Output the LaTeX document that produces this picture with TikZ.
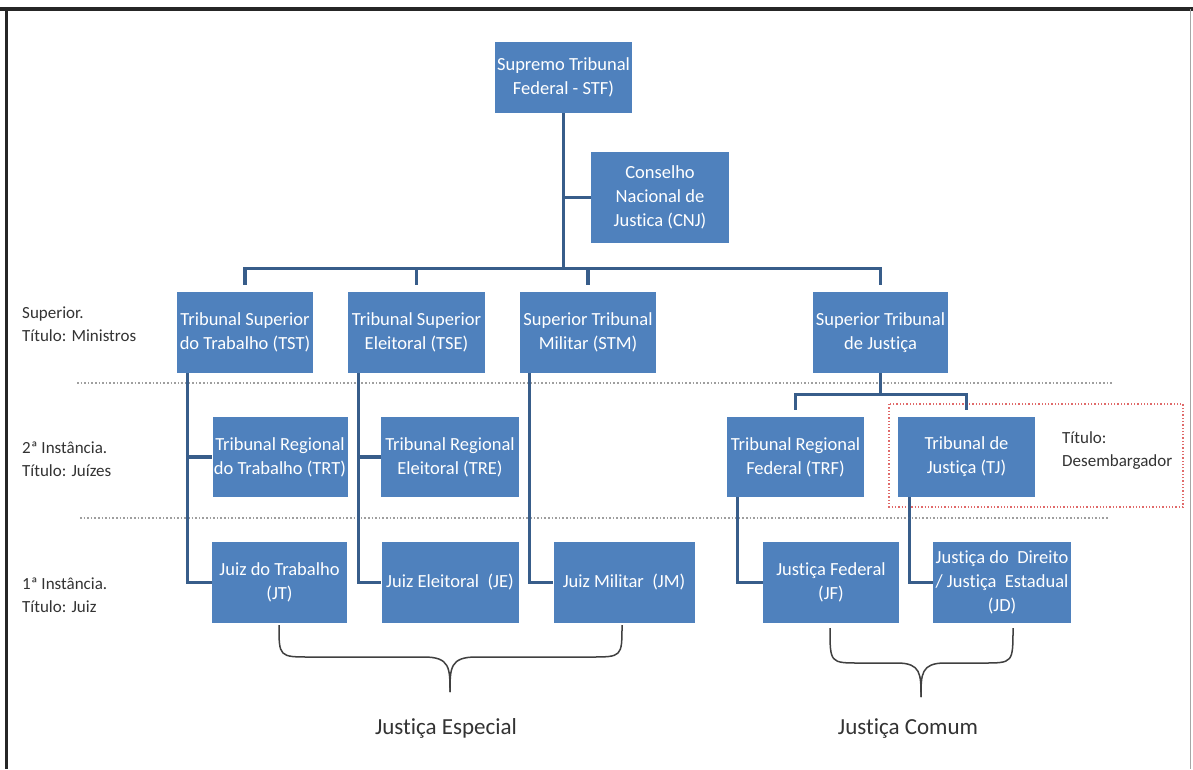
\documentclass[tikz,border=0pt]{standalone}
\usepackage{fontspec}
\setmainfont{Carlito}[Ligatures=NoCommon]
\definecolor{boxblue}{HTML}{4F81BD}
\definecolor{connblue}{HTML}{385D8A}
\definecolor{lbl}{HTML}{333333}
\definecolor{redbox}{HTML}{E06A6A}
\begin{document}
\begin{tikzpicture}[x=1pt,y=-1pt,
  box/.style={fill=boxblue, text=white, align=center, inner sep=0pt,
    minimum height=81pt, font=\fontsize{18.5}{24}\selectfont},
  conn/.style={draw=connblue, line width=3.2pt},
  lab/.style={anchor=west, align=left, text=lbl, inner sep=0pt,
    font=\fontsize{17}{23}\selectfont},
  biglab/.style={text=lbl, inner sep=0pt, font=\fontsize{23}{27}\selectfont},
  sepline/.style={draw=gray!75, dotted, line width=1.6pt},
  bracepath/.style={draw=black!75, line width=1.5pt}]
\useasboundingbox (0,0) rectangle (1193,769);
\fill[white] (0,0) rectangle (1193,769);

% frame
\draw[line width=3.5pt, black!85] (0,9) -- (1193,9);
\draw[line width=3pt, black!85] (6,9) -- (6,769);
\draw[line width=1pt, gray!70] (1190,9) -- (1190,769);

% separators
\draw[sepline] (77,383) -- (1113,383);
\draw[sepline] (80,518) -- (1108,518);

% red dotted box
\draw[redbox, dotted, line width=1.3pt] (889,404) rectangle (1183,507);

% boxes
\node[box, minimum width=137pt, minimum height=71pt] (STF) at (563.5,77.5) {Supremo Tribunal\\Federal - STF)};
\node[box, minimum width=138pt, minimum height=91pt] (CNJ) at (660,197.5) {Conselho\\Nacional de\\Justica (CNJ)};

\node[box, minimum width=136pt] (TST) at (245,332.5) {Tribunal Superior\\do Trabalho (TST)};
\node[box, minimum width=137pt] (TSE) at (416.5,332.5) {Tribunal Superior\\Eleitoral (TSE)};
\node[box, minimum width=136pt] (STM) at (588,332.5) {Superior Tribunal\\Militar (STM)};
\node[box, minimum width=135pt] (STJ) at (880.5,332.5) {Superior Tribunal\\de Justiça};

\node[box, minimum width=135pt, minimum height=80pt] (TRT) at (280,457) {Tribunal Regional\\do Trabalho (TRT)};
\node[box, minimum width=138pt, minimum height=80pt] (TRE) at (450,457) {Tribunal Regional\\Eleitoral (TRE)};
\node[box, minimum width=137pt, minimum height=80pt] (TRF) at (795.5,457) {Tribunal Regional\\Federal (TRF)};
\node[box, minimum width=137pt, minimum height=80pt] (TJ) at (966.5,457) {Tribunal de\\Justiça (TJ)};

\node[box, minimum width=135pt] (JT) at (279.5,582.5) {Juiz do Trabalho\\(JT)};
\node[box, minimum width=137pt] (JE) at (450,582.5) {Juiz Eleitoral~ (JE)};
\node[box, minimum width=141pt] (JM) at (624,582.5) {Juiz Militar~ (JM)};
\node[box, minimum width=136pt] (JF) at (831,582.5) {Justiça Federal\\(JF)};
\node[box, minimum width=138pt] (JD) at (1002,582.5) {Justiça do~ Direito\\/ Justiça~ Estadual\\(JD)};

% connectors top
\coordinate (bus) at (0,269);
\draw[conn] (STF.south) -- (STF.south |- bus);
\draw[conn] (STF.south |- CNJ.west) -- (CNJ.west);
\draw[conn] ([yshift=7pt]TST.north) -- ++(0,-16) -| ([yshift=7pt]STJ.north);
\draw[conn] ([yshift=7pt]TSE.north) -- ++(0,-16);
\draw[conn] ([yshift=7pt]STM.north) -- ++(0,-16);

\draw[conn] (STJ.south) -- ++(0,22);
\draw[conn] ([yshift=7pt]TRF.north) -- ++(0,-15) -| ([yshift=7pt]TJ.north);

% vertical chains
\draw[conn] ([xshift=11pt]TST.south west) |- (JT.west);
\draw[conn] ([xshift=11pt]TST.south west) |- (TRT.west);
\draw[conn] ([xshift=11pt]TSE.south west) |- (JE.west);
\draw[conn] ([xshift=11pt]TSE.south west) |- (TRE.west);
\draw[conn] ([xshift=10pt]STM.south west) |- (JM.west);
\draw[conn] ([xshift=11pt]TRF.south west) |- (JF.west);
\draw[conn] ([xshift=12pt]TJ.south west) |- (JD.west);

% braces
\draw[bracepath] (279,625) .. controls (279,657) and (279,657) .. (311,657) -- (424,657) .. controls (450,657) and (450,668) .. (450,692);
\draw[bracepath] (622,625) .. controls (622,657) and (622,657) .. (590,657) -- (476,657) .. controls (450,657) and (450,668) .. (450,692);
\draw[bracepath] (830,628) .. controls (830,663) and (830,663) .. (860,663) -- (897,663) .. controls (921,663) and (921,674) .. (921,697);
\draw[bracepath] (1013,628) .. controls (1013,663) and (1013,663) .. (983,663) -- (945,663) .. controls (921,663) and (921,674) .. (921,697);

% labels
\node[lab] (lsup) at (22,324) {Superior.\\Título: Ministros};
\node[lab] (l2) at (22,459) {2ª Instância.\\Título: Juízes};
\node[lab] (l1) at (22,595) {1ª Instância.\\Título: Juiz};
\node[lab] (ltit) at (1062,451) {Título:\\Desembargador};
\node[biglab] (esp) at (446,728) {Justiça Especial};
\node[biglab] (com) at (908,729) {Justiça Comum};
\end{tikzpicture}
\end{document}
